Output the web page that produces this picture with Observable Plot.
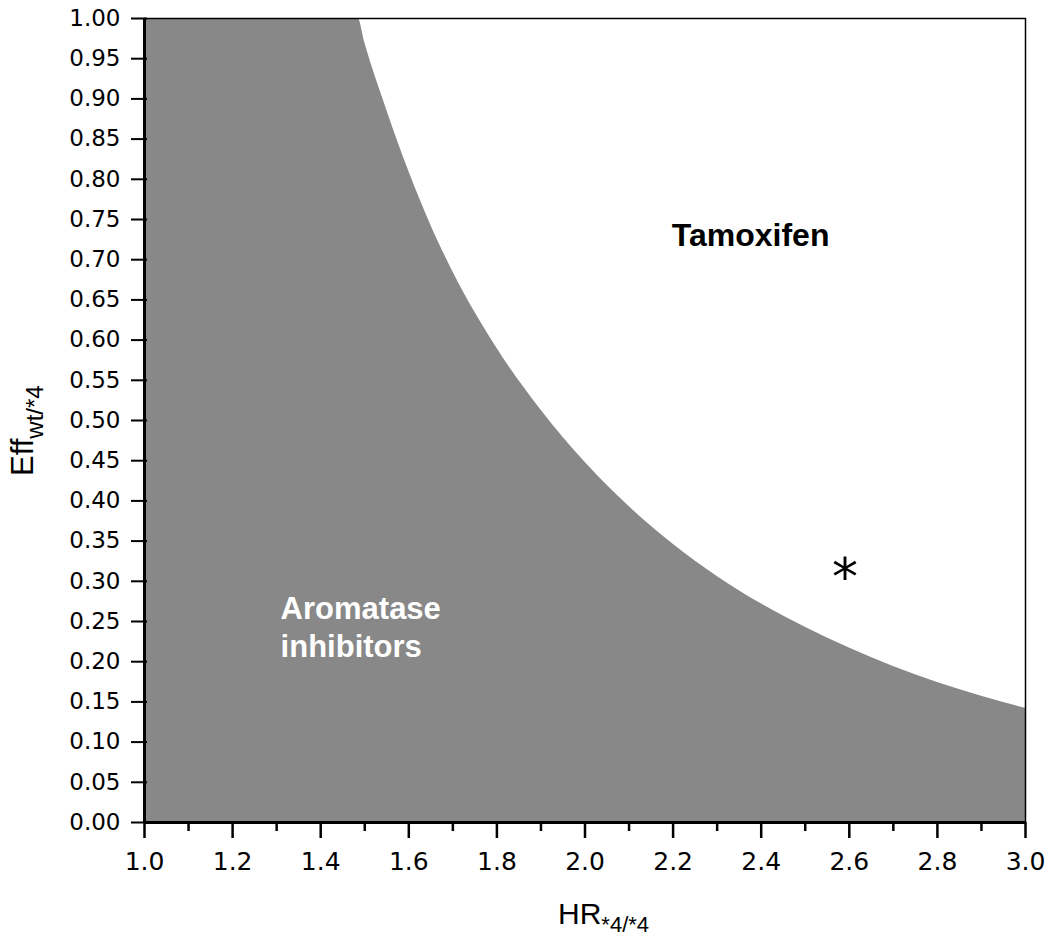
<!DOCTYPE html>
<html>
<head>
<meta charset="utf-8">
<script src="https://cdn.jsdelivr.net/npm/d3@7"></script>
<script src="https://cdn.jsdelivr.net/npm/@observablehq/plot@0.6"></script>
<style>
  html, body { margin: 0; padding: 0; background: #fff; }
  #chart svg { display: block; }
</style>
</head>
<body>
<div id="chart"></div>
<script>
// Decision boundary: HR*4/*4 vs Eff wt/*4
const hrValues  = [1.0, 1.1, 1.2, 1.3, 1.4, 1.485, 1.5, 1.55, 1.6, 1.65, 1.7, 1.8, 1.9, 2.0, 2.1, 2.2, 2.3, 2.4, 2.5, 2.6, 2.7, 2.8, 2.9, 3.0];
const effValues = [1.0, 1.0, 1.0, 1.0, 1.0, 1.0, 0.97, 0.886, 0.81, 0.743, 0.685, 0.590, 0.513, 0.448, 0.393, 0.346, 0.306, 0.272, 0.243, 0.217, 0.194, 0.174, 0.157, 0.142];

// Tick labels
const yTicks = d3.range(0, 21).map(i => i * 0.05);
const xMajorTicks = [1.0, 1.2, 1.4, 1.6, 1.8, 2.0, 2.2, 2.4, 2.6, 2.8, 3.0];
const xMinorTicks = [1.1, 1.3, 1.5, 1.7, 1.9, 2.1, 2.3, 2.5, 2.7, 2.9];

// Annotations
const regionLabels = [{x: 2.376, y: 0.73, text: "Tamoxifen"}];
const aiLabel = [{x: 1.309, y: 0.245, text: "Aromatase\ninhibitors"}];
const starPoint = [{x: 2.59, y: 0.316, text: "*"}];

const boundary = hrValues.map((x, i) => ({x, y: effValues[i]}));

const plot = Plot.plot({
  width: 1050,
  height: 939,
  marginLeft: 144,
  marginRight: 25,
  marginTop: 18,
  marginBottom: 117,
  style: {fontFamily: "DejaVu Sans", color: "black", background: "white"},
  x: {domain: [1, 3], label: null},
  y: {domain: [0, 1], label: null},
  marks: [
    Plot.areaY(boundary, {x: "x", y: "y", fill: "#888888", curve: "monotone-x"}),
    Plot.frame({stroke: "black", strokeWidth: 1.5}),
    Plot.ruleX([1], {stroke: "black", strokeWidth: 3}),
    Plot.ruleY([0], {stroke: "black", strokeWidth: 3}),
    Plot.axisY(yTicks, {tickSize: 16, tickPadding: 11, dx: 3, strokeWidth: 2,
      tickFormat: d3.format(".2f"), fontSize: 23, label: null}),
    Plot.axisX(xMajorTicks, {tickSize: 16, tickPadding: 14, strokeWidth: 2.5,
      tickFormat: d3.format(".1f"), fontSize: 25, label: null}),
    Plot.axisX(xMinorTicks, {tickSize: 9, strokeWidth: 2.5, tickFormat: () => "", label: null}),
    Plot.text(regionLabels, {x: "x", y: "y", text: "text", fill: "black",
      fontSize: 32, fontWeight: "bold", fontFamily: "Liberation Sans, Arial, sans-serif", textAnchor: "middle"}),
    Plot.text(aiLabel, {x: "x", y: "y", text: "text", fill: "white",
      fontSize: 31, fontWeight: "bold", fontFamily: "Liberation Sans, Arial, sans-serif",
      textAnchor: "start", lineHeight: 1.25}),
    Plot.text(starPoint, {x: "x", y: "y", text: "text", fill: "black",
      fontSize: 52, fontFamily: "DejaVu Sans", dy: 10})
  ]
});

document.getElementById("chart").appendChild(plot);

// Axis titles with subscripts
const svg = d3.select(plot);
const xt = svg.append("text")
  .attr("x", 558).attr("y", 924)
  .attr("text-anchor", "start")
  .attr("font-family", "Liberation Sans, Arial, sans-serif")
  .attr("font-size", 30).attr("fill", "black");
xt.append("tspan").text("HR");
xt.append("tspan").attr("font-size", 22).attr("dy", 8).text("*4/*4");

const yt = svg.append("text")
  .attr("transform", "translate(33,476) rotate(-90)")
  .attr("text-anchor", "start")
  .attr("font-family", "Liberation Sans, Arial, sans-serif")
  .attr("font-size", 31).attr("fill", "black");
yt.append("tspan").text("Eff");
yt.append("tspan").attr("font-size", 24).attr("dy", 10).text("wt/*4");
</script>
</body>
</html>
